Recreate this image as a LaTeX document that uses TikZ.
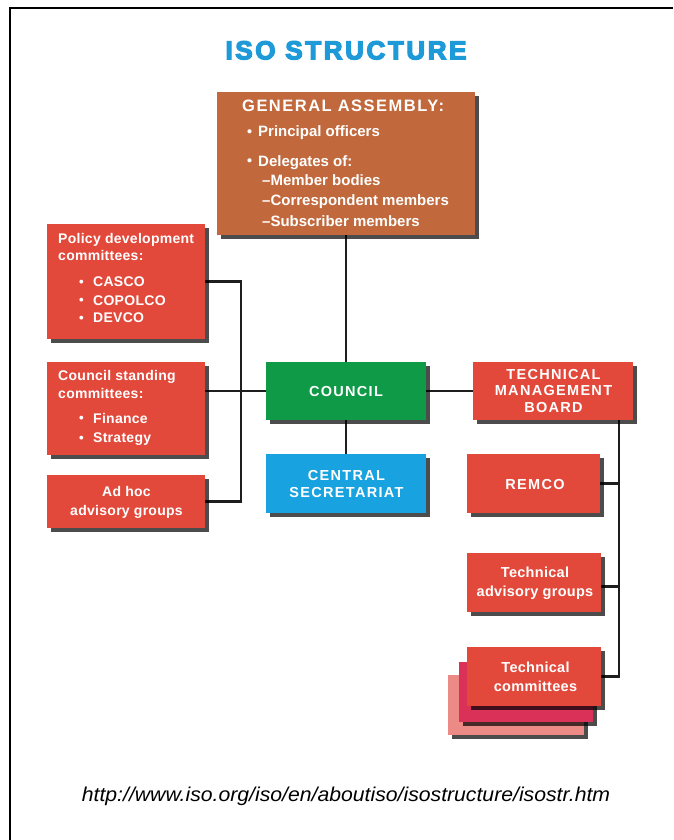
\documentclass[tikz,border=0pt]{standalone}
\usepackage{fontspec}
\usepackage{graphicx}
\setmainfont{Liberation Sans}
\newfontfamily\titlefont[LetterSpace=10]{Liberation Sans}
\newfontfamily\capsf[LetterSpace=9]{Liberation Sans}
\newfontfamily\lcf[LetterSpace=2]{Liberation Sans}
\usetikzlibrary{shadows,backgrounds}
\definecolor{gabrown}{HTML}{C1693C}
\definecolor{isored}{HTML}{E2493B}
\definecolor{isogreen}{HTML}{0E9A47}
\definecolor{isoblue}{HTML}{19A2E0}
\definecolor{titleblue}{HTML}{1E9AD8}
\definecolor{tcmag}{HTML}{D93158}
\definecolor{tcpink}{HTML}{EC8A86}
\definecolor{linec}{HTML}{1E1E1E}
\tikzset{
  box/.style={rectangle, inner sep=0pt, outer sep=0pt, fill=isored,
    drop shadow={shadow xshift=4pt, shadow yshift=-4pt, fill=black, opacity=0.7}},
  conn/.style={draw=linec, line width=2.3pt},
  capstxt/.style={text=white, inner sep=0pt, anchor=base, font=\capsf\bfseries\fontsize{14.5}{17}\selectfont},
  lctxt/.style={text=white, inner sep=0pt, anchor=base, font=\lcf\bfseries\fontsize{14.5}{17}\selectfont},
  lefttxt/.style={text=white, inner sep=0pt, anchor=base west, font=\lcf\bfseries\fontsize{14}{17}\selectfont},
  gatxt/.style={text=white, inner sep=0pt, anchor=base west, font=\bfseries\fontsize{15}{18}\selectfont},
}
\newcommand{\bul}[1]{\makebox[#1][l]{\raisebox{0.3pt}{\scalebox{0.95}{\textbullet}}}}
\newcommand{\heavytext}[1]{\special{pdf:literal direct 2 Tr 1.3 w}#1\special{pdf:literal direct 0 Tr}}
\begin{document}
\begin{tikzpicture}[x=1pt,y=-1pt]
\useasboundingbox (0,0) rectangle (673,840);
% frame
\draw[line width=2pt, black] (10,840) -- (10,8.3) -- (673,8.3);
% title
\node[anchor=base, inner sep=0pt, text=titleblue, font=\titlefont\bfseries\fontsize{26}{30}\selectfont] (title) at (346,59.3) {\heavytext{ISO STRUCTURE}};

% boxes
\node[box, fill=gabrown, minimum width=258pt, minimum height=143pt] (ga) at (346,163.5) {};
\node[box, minimum width=158pt, minimum height=115pt] (pdc) at (126,281.5) {};
\node[box, minimum width=158pt, minimum height=93pt] (csc) at (126,408.5) {};
\node[box, minimum width=158pt, minimum height=53pt] (adhoc) at (126,501.5) {};
\node[box, fill=isogreen, minimum width=160pt, minimum height=58pt] (council) at (346,391) {};
\node[box, minimum width=160pt, minimum height=58pt] (tmb) at (553,391) {};
\node[box, fill=isoblue, minimum width=160pt, minimum height=59pt] (cs) at (346,483.5) {};
\node[box, minimum width=133pt, minimum height=59pt] (remco) at (533.5,483.5) {};
\node[box, minimum width=134pt, minimum height=59pt] (tag) at (534,582.5) {};
\node[box, fill=tcpink, minimum width=136pt, minimum height=60pt] (tcback2) at (516,705) {};
\node[box, fill=tcmag, minimum width=134pt, minimum height=60pt] (tcback1) at (526,692) {};
\node[box, minimum width=134pt, minimum height=59pt] (tc) at (534,676.5) {};

% connectors
\coordinate (lbus) at (241,0);
\coordinate (rbus) at (619,0);
\begin{scope}[on background layer]
\draw[conn] (ga.south) -- (ga.south |- council.north);
\draw[conn] (council.south) -- (cs.north);
\draw[conn] (council.east) -- (tmb.west);
\draw[conn] (csc.east |- council.west) -- (council.west);
\draw[conn] (pdc.east) -| (lbus |- adhoc.east) -- (adhoc.east);
\draw[conn] (rbus |- tmb.south) |- (tc.east);
\draw[conn] (remco.east) -- (remco.east -| rbus);
\draw[conn] ([yshift=-4pt]tag.east) -- ([yshift=-4pt]tag.east -| rbus);
\end{scope}

% general assembly text
\node[text=white, inner sep=0pt, anchor=base west, font=\capsf\bfseries\fontsize{16.5}{20}\selectfont] (gat) at (242,111.5) {GENERAL ASSEMBLY:};
\node[gatxt] (ga1) at (247,136.5) {\bul{11pt}Principal officers};
\node[gatxt] (ga2) at (247,166) {\bul{11pt}Delegates of:};
\node[gatxt] (ga3) at (262,185) {–Member bodies};
\node[gatxt] (ga4) at (262,205.5) {–Correspondent members};
\node[gatxt] (ga5) at (262,226) {–Subscriber members};

% policy development
\node[lefttxt] (pd1) at (58,243.3) {Policy development};
\node[lefttxt] (pd2) at (58,260.7) {committees:};
\node[lefttxt] (pd3) at (79,286.7) {\bul{14pt}CASCO};
\node[lefttxt] (pd4) at (79,305) {\bul{14pt}COPOLCO};
\node[lefttxt] (pd5) at (79,322.7) {\bul{14pt}DEVCO};

% council standing
\node[lefttxt] (cs1) at (58,380.7) {Council standing};
\node[lefttxt] (cs2) at (58,398) {committees:};
\node[lefttxt] (cs3) at (79,423) {\bul{14pt}Finance};
\node[lefttxt] (cs4) at (79,442.7) {\bul{14pt}Strategy};

% ad hoc
\node[lctxt, font=\lcf\bfseries\fontsize{14}{17}\selectfont] (ah1) at (126.5,496.7) {Ad hoc};
\node[lctxt, font=\lcf\bfseries\fontsize{14}{17}\selectfont] (ah2) at (126.5,515) {advisory groups};

% council etc
\node[capstxt] (councilt) at (346,396) {COUNCIL};
\node[capstxt] (tmb1) at (553.5,379.3) {TECHNICAL};
\node[capstxt] (tmb2) at (553.5,395.7) {MANAGEMENT};
\node[capstxt] (tmb3) at (553.5,412.7) {BOARD};
\node[capstxt] (cst1) at (346.5,480) {CENTRAL};
\node[capstxt] (cst2) at (346.5,497.3) {SECRETARIAT};
\node[capstxt] (remcot) at (535,489) {REMCO};
\node[lctxt] (tag1) at (535,577.3) {Technical};
\node[lctxt] (tag2) at (535,596) {advisory groups};
\node[lctxt] (tc1) at (535.5,672.7) {Technical};
\node[lctxt] (tc2) at (535.5,691.7) {committees};

% url
\node[anchor=base, inner sep=0pt, font=\itshape\fontsize{20}{24}\selectfont] (url) at (346,801.7) {\scalebox{1.06}[1]{http://www.iso.org/iso/en/aboutiso/isostructure/isostr.htm}};
\end{tikzpicture}
\end{document}
